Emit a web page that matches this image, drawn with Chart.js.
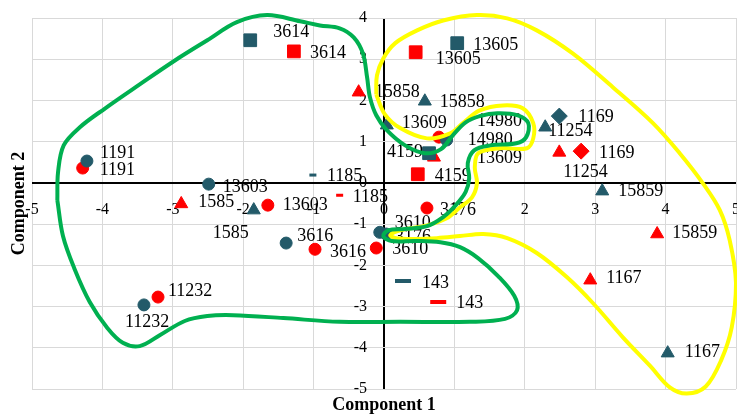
<!DOCTYPE html>
<html>
<head>
<meta charset="utf-8">
<script src="https://cdn.jsdelivr.net/npm/chart.js@4.4.1/dist/chart.umd.min.js"></script>
<style>
  html, body { margin: 0; padding: 0; background: #ffffff; }
  #wrap { width: 737px; height: 414px; position: relative; }
</style>
</head>
<body>
<div id="wrap"><canvas id="c" width="737" height="414"></canvas></div>
<script>
// Sample identifiers shared by both scores series
const sampleIds = ['3614', '1191', '13603', '1585', '1185', '3616', '11232', '3610', '3176', '15858',
                   '13609', '14980', '4159', '13605', '1169', '11254', '15859', '1167', '143'];

// First series (dark teal) scores
const tealX = [-1.90, -4.22, -2.49, -1.85, -1.01, -1.39, -3.41, -0.06, 0.03, 0.58,
               0.04, 0.89, 0.64, 1.04, 2.49, 2.29, 3.10, 4.03, 0.27];
const tealY = [3.46, 0.53, -0.03, -0.66, 0.19, -1.46, -2.96, -1.20, -1.24, 1.98,
               1.40, 1.04, 0.72, 3.39, 1.62, 1.35, -0.20, -4.13, -2.38];

// Second series (red) scores
const redX = [-1.28, -4.28, -1.65, -2.88, -0.63, -0.98, -3.21, -0.11, 0.61, -0.36,
              0.71, 0.78, 0.48, 0.45, 2.80, 2.49, 3.88, 2.93, 0.77];
const redY = [3.19, 0.36, -0.54, -0.51, -0.30, -1.61, -2.77, -1.58, -0.61, 2.20,
              0.62, 1.11, 0.21, 3.17, 0.77, 0.74, -1.24, -2.36, -2.89];

// Axis tick values
const xTickValues = [-5, -4, -3, -2, -1, 0, 1, 2, 3, 4, 5];
const yTickValues = [-5, -4, -3, -2, -1, 0, 1, 2, 3, 4];

// Hand-drawn grouping outlines (closed loops, in axis units)
const greenOutlineX = [-4.64, -4.63, -4.55, -4.32, -3.96, -3.47, -2.97, -2.51, -2.09, -1.66, -1.19, -0.91, -0.63, -0.43, -0.30, -0.24, -0.20,
  -0.11, 0.04, 0.30, 0.58, 0.81, 0.98, 1.16, 1.36, 1.61, 1.90, 2.05, 2.02, 1.88, 1.51, 1.28, 1.19, 1.21, 1.16, 1.02, 0.84, 0.61, 0.30, 0.06,
  -0.01, 0.11, 0.44, 0.80, 1.08, 1.34, 1.62, 1.85, 1.89, 1.72, 1.22, 0.23, -0.63, -1.43, -2.14, -2.51, -2.83, -3.18, -3.47, -3.71, -3.93,
  -4.18, -4.40, -4.56, -4.64];
const greenOutlineY = [-0.42, 0.26, 0.91, 1.35, 1.81, 2.39, 2.97, 3.46, 3.90, 4.07, 3.92, 3.82, 3.75, 3.53, 3.14, 2.56, 2.08,
  1.64, 1.28, 0.91, 0.72, 0.82, 1.16, 1.47, 1.62, 1.69, 1.64, 1.45, 1.11, 0.96, 0.91, 0.79, 0.48, 0.11, -0.22, -0.54, -0.83, -1.05, -1.12, -1.15,
  -1.29, -1.41, -1.41, -1.44, -1.56, -1.83, -2.26, -2.74, -3.09, -3.30, -3.37, -3.37, -3.37, -3.28, -3.21, -3.23, -3.35, -3.69, -3.96, -3.88, -3.52,
  -2.89, -2.07, -1.29, -0.42];

const yellowOutlineX = [-0.11, -0.10, -0.01, 0.16, 0.47, 0.84, 1.32, 1.75, 2.17, 2.68, 3.25, 3.82, 4.20, 4.53, 4.77, 4.91, 5.00, 4.94, 4.79,
  4.57, 4.30, 4.06, 3.78, 3.39, 2.97, 2.60, 2.17, 1.75, 1.41, 1.08, 0.75, 0.44, 0.17, 0.09, 0.23, 0.61, 0.89, 1.08, 1.25, 1.32, 1.29, 1.34,
  1.65, 2.03, 2.12, 2.12, 1.97, 1.69, 1.36, 1.12, 0.94, 0.61, 0.23, 0.01, -0.11];
const yellowOutlineY = [2.14, 2.61, 3.02, 3.39, 3.70, 3.94, 4.07, 3.99, 3.70, 3.14, 2.32, 1.45, 0.72, -0.01, -0.66, -1.39, -2.43, -3.50, -4.30,
  -4.94, -5.11, -4.96, -4.44, -3.74, -2.92, -2.29, -1.70, -1.34, -1.24, -1.29, -1.34, -1.36, -1.34, -1.27, -1.15, -1.03, -0.86, -0.59, -0.35, -0.01, 0.38, 0.72,
  0.84, 0.84, 1.08, 1.45, 1.81, 1.88, 1.76, 1.45, 1.20, 1.08, 1.33, 1.67, 2.14];

// ---- styling (kept apart from the values) ----
const TEAL = '#235a69';
const RED = '#ff0000';
const FONT = '"Liberation Serif", "Times New Roman", serif';

const markerKind = ['rect', 'circle', 'circle', 'triangle', 'shortBar', 'circle', 'circle', 'circle', 'circle', 'triangle',
                    'triangle', 'circle', 'rect', 'rect', 'diamond', 'triangle', 'triangle', 'triangle', 'longBar'];
const markerLook = {
  circle:   { style: 'circle',   radius: 6,   border: 1 },
  rect:     { style: 'rect',     radius: 9,   border: 1 },
  triangle: { style: 'triangle', radius: 7.5, border: 1 },
  diamond:  { style: 'rectRot',  radius: 8,   border: 1 },
  shortBar: { style: 'line',     radius: 3.5, border: 3 },
  longBar:  { style: 'line',     radius: 8,   border: 4 }
};

// where each label sits relative to its marker: [left edge dx, centre dy] in px
const tealLabelShift = [[23, -8], [13, -8], [14, 3], [-41, 23], [14, 1], [11, -7], [-19, 17], [15, -9], [9, 3], [15, 1],
                        [15, -2], [21, 0], [-42, -1], [16, 2], [19, 1], [3, 4], [16, 0], [17, -1], [19, 2]];
const redLabelShift = [[16, 2], [17, 2], [15, 0], [17, -2], [13, 2], [15, 3], [10, -6], [16, 1], [13, 2], [16, 0],
                       [43, 1], [38, -16], [17, 2], [20, 7], [18, 2], [4, 20], [15, -1], [16, -2], [18, 1]];

const toPoints = (xs, ys) => xs.map((x, i) => ({ x: x, y: ys[i] }));

function scoreSeries(label, xs, ys, color, shifts, order) {
  return {
    label: label,
    data: toPoints(xs, ys),
    order: order,
    showLine: false,
    backgroundColor: color,
    borderColor: color,
    pointBackgroundColor: color,
    pointBorderColor: color,
    pointStyle: markerKind.map(k => markerLook[k].style),
    pointRadius: markerKind.map(k => markerLook[k].radius),
    pointBorderWidth: markerKind.map(k => markerLook[k].border),
    labelShift: shifts
  };
}

function outline(label, xs, ys, color) {
  return {
    label: label,
    data: toPoints(xs, ys),
    order: 0,
    showLine: true,
    fill: false,
    tension: 0.35,
    borderColor: color,
    borderWidth: 4,
    pointRadius: 0,
    clip: false
  };
}

// tick labels on the crossing axes, titles, and point labels
const annotate = {
  id: 'annotate',
  beforeDatasetsDraw(chart) {
    const { ctx, scales: { x, y } } = chart;
    const x0 = x.getPixelForValue(0);
    const y0 = y.getPixelForValue(0);
    ctx.save();
    ctx.fillStyle = '#000';
    ctx.font = '16px ' + FONT;
    ctx.textBaseline = 'middle';
    ctx.textAlign = 'center';
    xTickValues.forEach(v => ctx.fillText(String(v), x.getPixelForValue(v), y0 + 27));
    ctx.textAlign = 'right';
    yTickValues.forEach(v => ctx.fillText(String(v), x0 - 17, y.getPixelForValue(v)));

    const area = chart.chartArea;
    ctx.font = 'bold 18px ' + FONT;
    ctx.textAlign = 'center';
    ctx.fillText('Component 1', (area.left + area.right) / 2, 405);
    ctx.translate(19, (area.top + area.bottom) / 2);
    ctx.rotate(-Math.PI / 2);
    ctx.fillText('Component 2', 0, 0);
    ctx.restore();
  },
  afterDatasetDraw(chart, args) {
    const ds = chart.data.datasets[args.index];
    if (!ds.labelShift) return;
    const { ctx } = chart;
    ctx.save();
    ctx.fillStyle = '#000';
    ctx.font = '18px ' + FONT;
    ctx.textAlign = 'left';
    ctx.textBaseline = 'middle';
    args.meta.data.forEach((pt, i) => {
      const s = ds.labelShift[i];
      ctx.fillText(sampleIds[i], pt.x + s[0], pt.y + s[1]);
    });
    ctx.restore();
  }
};

const axisGrid = {
  color: c => (c.tick && c.tick.value === 0) ? '#000000' : '#d9d9d9',
  lineWidth: c => (c.tick && c.tick.value === 0) ? 2 : 1,
  drawTicks: false
};

new Chart(document.getElementById('c'), {
  type: 'scatter',
  data: {
    datasets: [
      outline('group A', greenOutlineX, greenOutlineY, '#00b050'),
      outline('group B', yellowOutlineX, yellowOutlineY, '#ffff00'),
      scoreSeries('scores 1', tealX, tealY, TEAL, tealLabelShift, 1),
      scoreSeries('scores 2', redX, redY, RED, redLabelShift, 2)
    ]
  },
  options: {
    responsive: false,
    devicePixelRatio: 1,
    animation: false,
    events: [],
    layout: { autoPadding: false, padding: { left: 32, right: 1, top: 18, bottom: 25 } },
    plugins: { legend: { display: false }, tooltip: { enabled: false } },
    scales: {
      x: {
        type: 'linear', min: -5, max: 5,
        ticks: { display: false, stepSize: 1 },
        grid: axisGrid,
        border: { display: false }
      },
      y: {
        type: 'linear', min: -5, max: 4,
        ticks: { display: false, stepSize: 1 },
        grid: axisGrid,
        border: { display: false }
      }
    }
  },
  plugins: [annotate]
});
</script>
</body>
</html>
